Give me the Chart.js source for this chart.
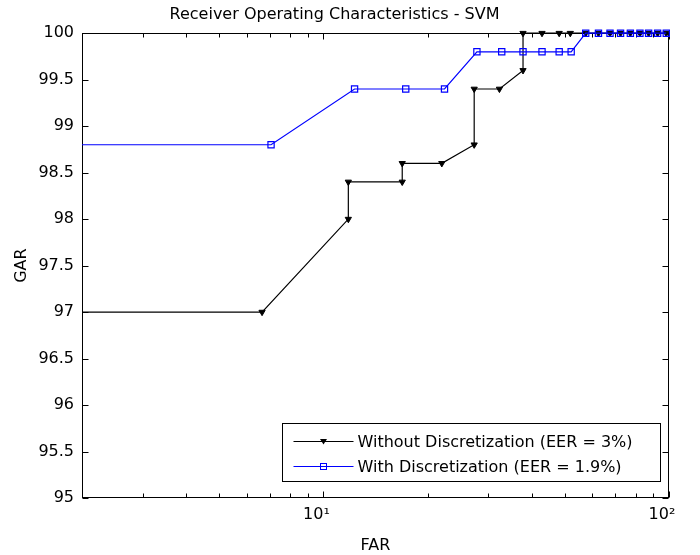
<!DOCTYPE html>
<html>
<head>
<meta charset="utf-8">
<script src="https://cdn.jsdelivr.net/npm/chart.js@4"></script>
<style>
  body { margin: 0; background: #fff; }
  #wrap { width: 700px; height: 555px; }
</style>
</head>
<body>
<div id="wrap"><canvas id="roc" width="700" height="555"></canvas></div>
<script>
// FAR / GAR values
const withoutFar = [1, 6.64, 11.8, 11.8, 16.9, 16.9, 22.0, 27.3, 27.3, 32.3, 37.8, 37.8, 42.9, 48.1, 51.8, 57.4, 62.5, 67.5, 72.4, 77.3, 82.4, 87.3, 92.7, 98.2];
const withoutGar = [97, 97, 98, 98.4, 98.4, 98.6, 98.6, 98.8, 99.4, 99.4, 99.6, 100, 100, 100, 100, 100, 100, 100, 100, 100, 100, 100, 100, 100];

const withFar = [1, 7.05, 12.3, 17.3, 22.4, 27.8, 32.8, 37.8, 42.9, 48.1, 52.1, 57.4, 62.5, 67.5, 72.4, 77.3, 82.4, 87.3, 92.7, 98.2];
const withGar = [98.8, 98.8, 99.4, 99.4, 99.4, 99.8, 99.8, 99.8, 99.8, 99.8, 99.8, 100, 100, 100, 100, 100, 100, 100, 100, 100];

const seriesLabels = ['Without Discretization (EER = 3%)', 'With Discretization (EER = 1.9%)'];

// axis ticks
const xMajorTicks = [10, 100];
const xTickLabels = ['10\u00b9', '10\u00b2'];
const xMinorTicks = [3, 4, 5, 6, 7, 8, 9, 20, 30, 40, 50, 60, 70, 80, 90];
const yTicks = [95, 95.5, 96, 96.5, 97, 97.5, 98, 98.5, 99, 99.5, 100];
const yTickLabels = ['95', '95.5', '96', '96.5', '97', '97.5', '98', '98.5', '99', '99.5', '100'];

const FONT = 'DejaVu Sans';

const toPoints = (xs, ys) => xs.map((x, i) => ({ x: x, y: ys[i] }));

// MATLAB style box with inward ticks
const boxPlugin = {
  id: 'box',
  beforeDatasetsDraw(chart) {
    const { ctx, chartArea: a, scales: { x, y } } = chart;
    const L = Math.round(a.left) + 0.5, R = Math.round(a.right) - 0.5;
    const T = Math.round(a.top) + 0.5, B = Math.round(a.bottom) - 0.5;
    ctx.save();
    ctx.strokeStyle = '#000';
    ctx.lineWidth = 1;
    ctx.strokeRect(L, T, R - L, B - T);
    ctx.beginPath();
    yTicks.forEach(v => {
      const py = Math.round(y.getPixelForValue(v)) + 0.5;
      ctx.moveTo(L, py); ctx.lineTo(L + 6, py);
      ctx.moveTo(R, py); ctx.lineTo(R - 6, py);
    });
    xMajorTicks.forEach(v => {
      const px = Math.round(x.getPixelForValue(v)) + 0.5;
      ctx.moveTo(px, B); ctx.lineTo(px, B - 6);
      ctx.moveTo(px, T); ctx.lineTo(px, T + 6);
    });
    xMinorTicks.forEach(v => {
      const px = Math.round(x.getPixelForValue(v)) + 0.5;
      ctx.moveTo(px, B); ctx.lineTo(px, B - 4);
      ctx.moveTo(px, T); ctx.lineTo(px, T + 4);
    });
    ctx.stroke();
    ctx.restore();
  },
  afterDraw(chart) {
    // legend box inside the plot, lower right
    const { ctx, chartArea: a } = chart;
    const sets = chart.data.datasets;
    ctx.save();
    ctx.font = '16px "' + FONT + '"';
    const textW = Math.max(...sets.map(d => ctx.measureText(d.label).width));
    const right = Math.round(a.right) - 8.5;
    const bottom = Math.round(a.bottom) - 16.5;
    const w = textW + 103, h = 58;
    const left = Math.round(right - w) + 0.5, top = bottom - h;
    ctx.fillStyle = '#fff';
    ctx.fillRect(left, top, right - left, h);
    ctx.strokeStyle = '#000';
    ctx.lineWidth = 1;
    ctx.strokeRect(left, top, right - left, h);
    sets.forEach((d, i) => {
      const ry = Math.round(top + 17 + i * 25) + 0.5;
      const x0 = left + 11, x1 = x0 + 60, mx = (x0 + x1) / 2;
      ctx.strokeStyle = d.borderColor;
      ctx.lineWidth = d.borderWidth;
      ctx.beginPath(); ctx.moveTo(x0, ry); ctx.lineTo(x1, ry); ctx.stroke();
      ctx.lineWidth = 1;
      if (d.pointStyle === 'triangle') {
        ctx.fillStyle = d.pointBackgroundColor;
        ctx.beginPath();
        ctx.moveTo(mx - 3.5, ry - 2.5); ctx.lineTo(mx + 3.5, ry - 2.5); ctx.lineTo(mx, ry + 3);
        ctx.closePath(); ctx.fill();
      } else {
        ctx.strokeRect(mx - 3, ry - 3, 6, 6);
      }
      ctx.fillStyle = '#000';
      ctx.textBaseline = 'middle';
      ctx.textAlign = 'left';
      ctx.fillText(d.label, x1 + 4, ry + 1);
    });
    ctx.restore();
  }
};

new Chart(document.getElementById('roc'), {
  type: 'line',
  data: {
    datasets: [
      {
        label: seriesLabels[0],
        data: toPoints(withoutFar, withoutGar),
        borderColor: '#000000',
        borderWidth: 1.2,
        pointStyle: 'triangle',
        pointRotation: 180,
        pointRadius: 3.6,
        pointBackgroundColor: '#000000',
        pointBorderColor: '#000000',
        pointBorderWidth: 1,
        tension: 0,
        order: 1,
        clip: { left: 0, top: 8, right: 8, bottom: 0 }
      },
      {
        label: seriesLabels[1],
        data: toPoints(withFar, withGar),
        borderColor: '#0000ff',
        borderWidth: 1.2,
        pointStyle: 'rect',
        pointRadius: 4.4,
        pointBackgroundColor: 'rgba(0,0,0,0)',
        pointBorderColor: '#0000ff',
        pointBorderWidth: 1.2,
        tension: 0,
        order: 0,
        clip: { left: 0, top: 8, right: 8, bottom: 0 }
      }
    ]
  },
  options: {
    responsive: false,
    animation: false,
    devicePixelRatio: 1,
    layout: { padding: { left: 0, right: 31, top: 0, bottom: 0 } },
    plugins: {
      legend: { display: false },
      tooltip: { enabled: false },
      title: {
        display: true,
        text: 'Receiver Operating Characteristics - SVM',
        color: '#000',
        font: { family: FONT, size: 16, weight: 'normal' },
        padding: { top: 5, bottom: 9 }
      }
    },
    scales: {
      x: {
        type: 'logarithmic',
        min: 2,
        max: 100,
        grid: { display: false, drawTicks: false },
        border: { display: false },
        afterBuildTicks: scale => { scale.ticks = xMajorTicks.map(v => ({ value: v, major: true })); },
        afterFit: scale => { scale.height = 57; },
        ticks: {
          color: '#000',
          font: { family: FONT, size: 16 },
          padding: 7,
          labelOffset: -7,
          maxRotation: 0,
          autoSkip: false,
          callback: (v, i) => xTickLabels[i]
        },
        title: {
          display: true,
          text: 'FAR',
          color: '#000',
          font: { family: FONT, size: 16 },
          padding: { top: 0, bottom: 0 }
        }
      },
      y: {
        min: 95,
        max: 100,
        grid: { display: false, drawTicks: false },
        border: { display: false },
        afterBuildTicks: scale => { scale.ticks = yTicks.map(v => ({ value: v })); },
        afterFit: scale => { scale.width = 82; },
        ticks: {
          color: '#000',
          font: { family: FONT, size: 16 },
          padding: 8,
          autoSkip: false,
          callback: (v, i) => yTickLabels[i]
        },
        title: {
          display: true,
          text: 'GAR',
          color: '#000',
          font: { family: FONT, size: 16 },
          padding: { top: 12, bottom: 0 }
        }
      }
    }
  },
  plugins: [boxPlugin]
});
</script>
</body>
</html>
